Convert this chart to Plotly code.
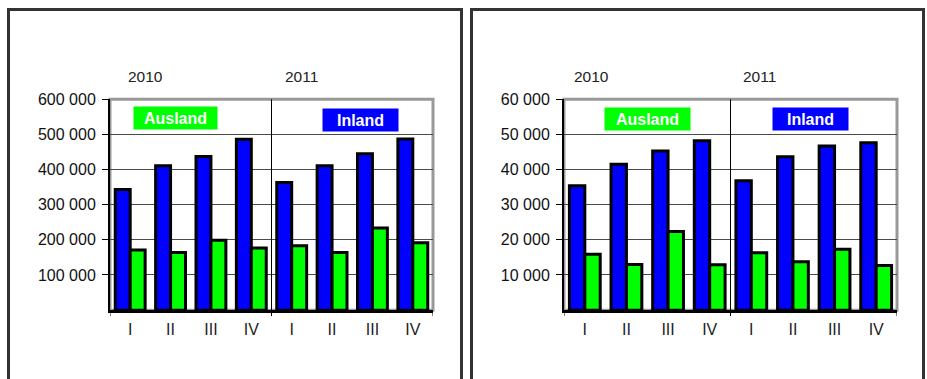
import plotly.graph_objects as go

# ---- data ----
categories = ["2010 I", "2010 II", "2010 III", "2010 IV", "2011 I", "2011 II", "2011 III", "2011 IV"]
quarter_labels = ["I", "II", "III", "IV", "I", "II", "III", "IV"]
years = ["2010", "2011"]

inland_left = [343000, 411000, 437000, 486000, 363000, 411000, 445000, 487000]
ausland_left = [171000, 164000, 199000, 177000, 183000, 164000, 234000, 192000]

inland_right = [35400, 41500, 45300, 48200, 36800, 43600, 46700, 47600]
ausland_right = [15900, 13000, 22400, 12900, 16300, 13800, 17300, 12700]

left_tickvals = [100000, 200000, 300000, 400000, 500000, 600000]
left_ticktext = ["100 000", "200 000", "300 000", "400 000", "500 000", "600 000"]
right_tickvals = [10000, 20000, 30000, 40000, 50000, 60000]
right_ticktext = ["10 000", "20 000", "30 000", "40 000", "50 000", "60 000"]

W, H = 927, 379
BLUE = "#0000FF"
GREEN = "#00FF00"
FONT = "Liberation Sans, Arial, sans-serif"


def px(x):
    return x / W


def py(y):
    # map a target screen row to paper coordinates (compensating observed vertical offset)
    yd = (y - 7.8) / 0.979
    return 1 - yd / H


fig = go.Figure()

for inl, aus, xa, ya in [(inland_left, ausland_left, "x", "y"), (inland_right, ausland_right, "x2", "y2")]:
    fig.add_trace(go.Bar(x=categories, y=inl, name="Inland", xaxis=xa, yaxis=ya,
                         marker=dict(color=BLUE, line=dict(color="black", width=3)), showlegend=False))
    fig.add_trace(go.Bar(x=categories, y=aus, name="Ausland", xaxis=xa, yaxis=ya,
                         marker=dict(color=GREEN, line=dict(color="black", width=3)), showlegend=False))

common_x = dict(type="category", range=[-0.5, 7.5], tickmode="array", tickvals=categories,
                ticktext=quarter_labels, ticks="", showline=True, linecolor="black", linewidth=3,
                showgrid=False, zeroline=False, tickfont=dict(family=FONT, size=16, color="#222222"),
                ticklabelstandoff=3)
common_y = dict(showline=True, linecolor="black", linewidth=2, ticks="outside", ticklen=6,
                tickcolor="black", tickwidth=1, showgrid=True, gridcolor="#4a4a4a", gridwidth=1,
                zeroline=False, tickfont=dict(family=FONT, size=16, color="#111111"),
                ticklabelstandoff=3)

fig.update_layout(
    width=W, height=H, margin=dict(l=0, r=0, t=0, b=0),
    paper_bgcolor="white", plot_bgcolor="white",
    barmode="group", bargap=0.26, bargroupgap=0,
    xaxis=dict(domain=[px(110), px(433)], anchor="y", **common_x),
    yaxis=dict(domain=[py(310), py(99)], anchor="x", range=[0, 600000], tickmode="array",
               tickvals=left_tickvals, ticktext=left_ticktext, **common_y),
    xaxis2=dict(domain=[px(564), px(897)], anchor="y2", **common_x),
    yaxis2=dict(domain=[py(310), py(99)], anchor="x2", range=[0, 60000], tickmode="array",
                tickvals=right_tickvals, ticktext=right_ticktext, **common_y),
)

shapes = []
# outer frames
top_frame = 1 - 1.5 / H
shapes.append(dict(type="rect", xref="paper", yref="paper", x0=px(8.5), x1=px(461.5), y0=-0.05, y1=top_frame,
                   line=dict(color="#333333", width=3), layer="below"))
shapes.append(dict(type="rect", xref="paper", yref="paper", x0=px(471.5), x1=px(923.5), y0=-0.05, y1=top_frame,
                   line=dict(color="#333333", width=3), layer="below"))
for xr, yr in [("x", "y"), ("x2", "y2")]:
    # gray plot-area border (top/right)
    shapes.append(dict(type="rect", xref=xr + " domain", yref=yr + " domain", x0=0, x1=1, y0=0, y1=1,
                       line=dict(color="#999999", width=3), layer="below"))
    # year divider
    shapes.append(dict(type="line", xref=xr, yref=yr + " domain", x0=3.5, x1=3.5, y0=-0.028, y1=1,
                       line=dict(color="black", width=1)))
    # boundary ticks
    for xv in [-0.5, 7.5]:
        shapes.append(dict(type="line", xref=xr, yref=yr + " domain", x0=xv, x1=xv, y0=-0.028, y1=0,
                           line=dict(color="black", width=1)))
fig.update_layout(shapes=shapes)

ann = []
year_x = [[145, 301], [591.5, 759]]
for ci in range(2):
    for yi, year in enumerate(years):
        ann.append(dict(text=year, xref="paper", yref="paper", x=px(year_x[ci][yi]), y=py(76),
                        showarrow=False, xanchor="center", yanchor="middle",
                        font=dict(family=FONT, size=15.5, color="#222222")))
# legend labels
leg = [("Ausland", GREEN, 175.5, 118, 83), ("Inland", BLUE, 360.5, 120, 75),
       ("Ausland", GREEN, 647.5, 119, 85), ("Inland", BLUE, 810.5, 119, 75)]
for t, c, cx, cy, w in leg:
    ann.append(dict(text="<b>%s</b>" % t, xref="paper", yref="paper", x=px(cx), y=py(cy),
                    xanchor="center", yanchor="middle",
                    showarrow=False, bgcolor=c, width=w, height=22, borderpad=0,
                    font=dict(family=FONT, size=16, color="white")))
fig.update_layout(annotations=ann)

fig.write_html("out.html")
